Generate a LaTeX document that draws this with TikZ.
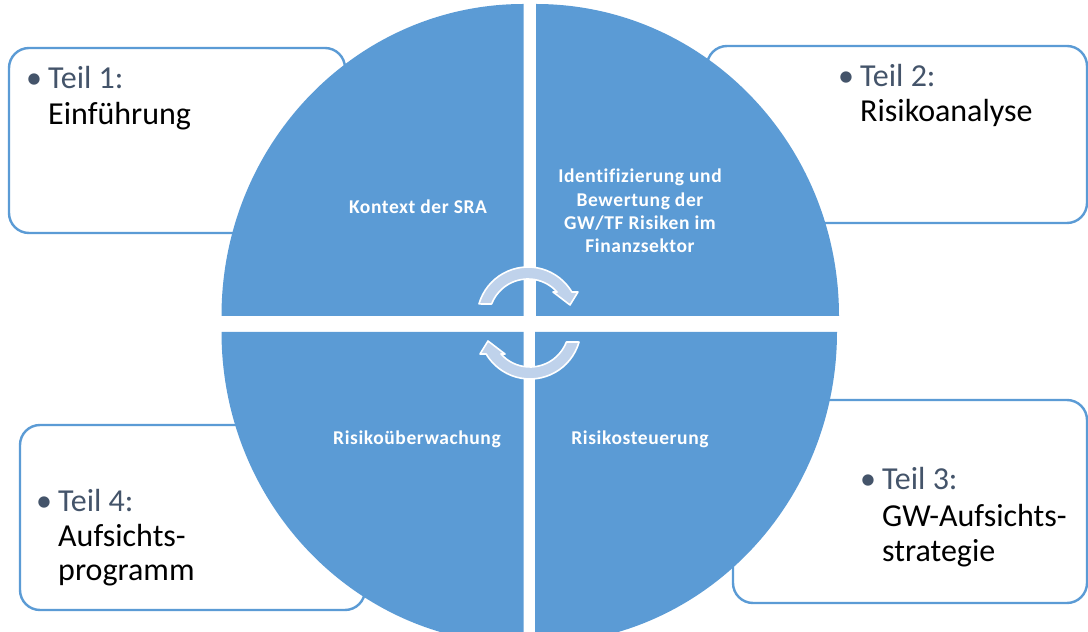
\documentclass[tikz,border=0pt]{standalone}
\usepackage{fontspec}
\setmainfont{Carlito}
\newfontfamily\qfont{Carlito}[LetterSpace=3, Ligatures=NoCommon]
\usetikzlibrary{calc}
\definecolor{qblue}{HTML}{5B9BD5}
\definecolor{arrowfill}{HTML}{BFD2EB}
\definecolor{teilcol}{HTML}{44546A}
\tikzset{
  box/.style={draw=qblue, line width=2.4pt, fill=white, rounded corners=20pt, inner sep=0pt},
  quad/.style={fill=qblue},
  qlabel/.style={text=white, font=\qfont\fontsize{19.5}{23}\selectfont\bfseries, align=center, inner sep=0pt},
  teil/.style={anchor=base west, inner sep=0pt, text=teilcol, font=\fontsize{32}{36}\selectfont},
  body/.style={anchor=base west, inner sep=0pt, text=black, font=\fontsize{32}{36}\selectfont},
  carrow/.style={fill=arrowfill, draw=white, line width=1.6pt, line join=round},
}
\begin{document}
\begin{tikzpicture}[x=1pt,y=1pt]
\useasboundingbox (0,0) rectangle (1088,632);
\clip (0,0) rectangle (1088,632);
% boxes behind the circle
\node[box, minimum width=336pt, minimum height=185pt] (b1) at (177,491.5) {};
\node[box, minimum width=380pt, minimum height=177pt] (b2) at (897,497.5) {};
\node[box, minimum width=354pt, minimum height=203pt] (b3) at (910,130.5) {};
\node[box, minimum width=345pt, minimum height=185pt] (b4) at (192.5,114.5) {};
% quadrants
\fill[quad] (523.5,316) -- (221.5,316) arc[start angle=180, end angle=90, x radius=302pt, y radius=312pt] -- cycle;
\fill[quad] (536,316) -- (536,628) arc[start angle=90, end angle=0, x radius=303pt, y radius=312pt] -- cycle;
\fill[quad] (523.5,300) -- (523.5,-12) arc[start angle=270, end angle=180, x radius=302pt, y radius=312pt] -- cycle;
\fill[quad] (535,300) -- (837,300) arc[start angle=0, end angle=-90, x radius=302pt, y radius=312pt] -- cycle;
% quadrant labels
\node[qlabel, anchor=base] (q1) at (418,418) {Kontext der SRA};
\node[qlabel, anchor=base] (q2a) at (640,449) {Identifizierung und};
\node[qlabel, anchor=base] (q2b) at (640,425) {Bewertung der};
\node[qlabel, anchor=base] (q2c) at (640,402) {GW/TF Risiken im};
\node[qlabel, anchor=base] (q2d) at (640,379) {Finanzsektor};
\node[qlabel, anchor=base] (q3) at (640,187) {Risikosteuerung};
\node[qlabel, anchor=base] (q4) at (417,187) {Risikoüberwachung};
% circular arrows
\coordinate (ct) at (528,314);
\coordinate (cb) at (530,304);
\draw[carrow] ($(ct)+(164:51)$) arc[start angle=164, end angle=30.6, radius=51pt]
  -- (578,340) -- (570,327) -- (553,340) -- ($(ct)+(41.8:39)$)
  arc[start angle=41.8, end angle=159, radius=39pt] -- cycle;
\draw[carrow] ($(cb)+(344:51)$) arc[start angle=344, end angle=210.6, radius=51pt]
  -- (480,278) -- (488,291) -- (505,278) -- ($(cb)+(221.8:39)$)
  arc[start angle=221.8, end angle=339, radius=39pt] -- cycle;
% box texts
\node[teil] (t1) at (26,543) {\makebox[22pt][l]{•}Teil 1:};
\node[body] (e1) at (48,507) {Einführung};
\node[teil] (t2) at (838,545) {\makebox[22pt][l]{•}Teil 2:};
\node[body] (e2) at (860,510) {Risikoanalyse};
\node[teil] (t3) at (860,142) {\makebox[22pt][l]{•}Teil 3:};
\node[body] (e3a) at (882,105) {GW-Aufsichts-};
\node[body] (e3b) at (882,70) {strategie};
\node[teil] (t4) at (36,120) {\makebox[22pt][l]{•}Teil 4:};
\node[body] (e4a) at (58,85) {Aufsichts-};
\node[body] (e4b) at (58,51) {programm};
\end{tikzpicture}
\end{document}
